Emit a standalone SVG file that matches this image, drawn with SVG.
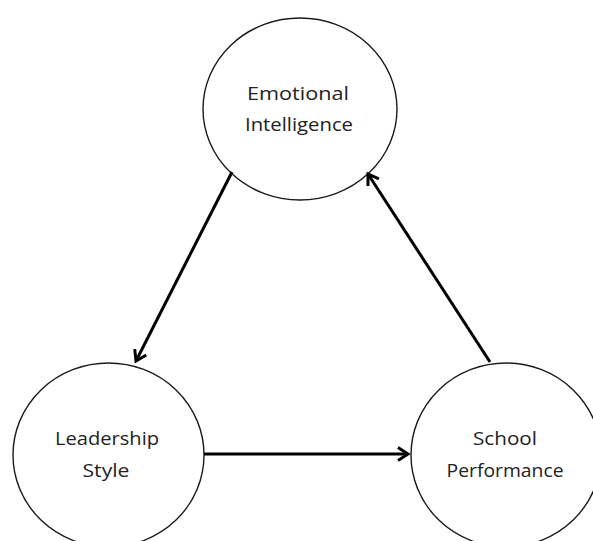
<svg xmlns="http://www.w3.org/2000/svg" width="593" height="541" viewBox="0 0 593 541">
<defs>
<style>
.node{fill:#fff;stroke:#1a1a1a;stroke-width:1.4}
.lbl{font-family:"Open Sans","Liberation Sans",sans-serif;font-size:18px;fill:#222;text-anchor:middle}
.edge{stroke:#000;stroke-width:3;fill:none}
</style>
<marker id="arr" markerUnits="userSpaceOnUse" markerWidth="16" markerHeight="16" refX="12" refY="8" orient="auto">
<path d="M2,1.5 L12,8 L2,14.5" fill="none" stroke="#000" stroke-width="3" stroke-linejoin="miter"/>
</marker>
</defs>
<rect width="593" height="541" fill="#fff"/>
<g id="emotional-intelligence">
<ellipse class="node" cx="300" cy="109" rx="97" ry="91"/>
<text class="lbl" x="298" y="100" textLength="102" lengthAdjust="spacingAndGlyphs">Emotional</text>
<text class="lbl" x="299" y="131" textLength="108" lengthAdjust="spacingAndGlyphs">Intelligence</text>
</g>
<g id="leadership-style">
<ellipse class="node" cx="108.5" cy="455" rx="95.5" ry="92"/>
<text class="lbl" x="107" y="445" textLength="104" lengthAdjust="spacingAndGlyphs">Leadership</text>
<text class="lbl" x="106" y="477" textLength="47" lengthAdjust="spacingAndGlyphs">Style</text>
</g>
<g id="school-performance">
<ellipse class="node" cx="506" cy="455" rx="95" ry="92"/>
<text class="lbl" x="505" y="445" textLength="64" lengthAdjust="spacingAndGlyphs">School</text>
<text class="lbl" x="505" y="477" textLength="117" lengthAdjust="spacingAndGlyphs">Performance</text>
</g>
<g id="connectors">
<line class="edge" x1="232" y1="172" x2="136" y2="361" marker-end="url(#arr)"/>
<line class="edge" x1="204" y1="454" x2="408" y2="454" marker-end="url(#arr)"/>
<line class="edge" x1="490" y1="362" x2="368" y2="174" marker-end="url(#arr)"/>
</g>
</svg>
